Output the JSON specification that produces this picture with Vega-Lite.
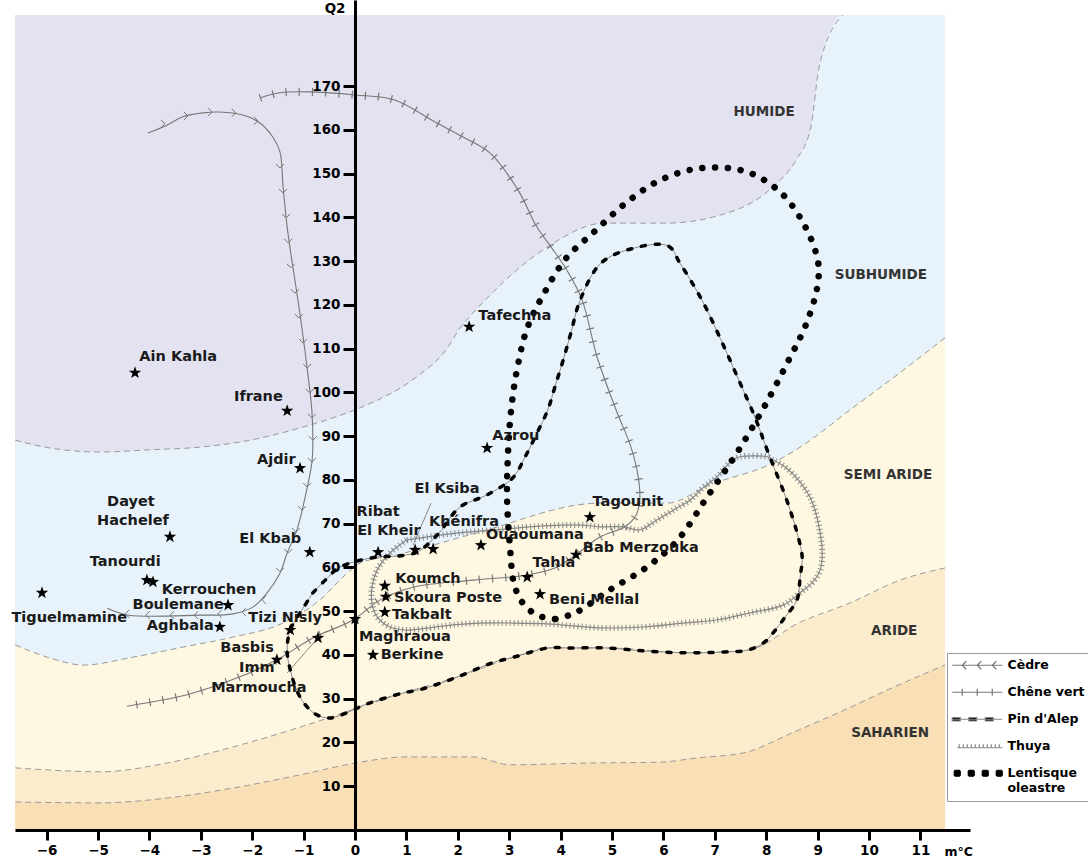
{
  "$schema": "https://vega.github.io/schema/vega-lite/v6.json",
  "width": 955,
  "height": 830,
  "autosize": {"type": "none"},
  "padding": {"left": 15, "top": 0, "right": 118, "bottom": 29},
  "background": "white",
  "config": {"view": {"stroke": null}, "font": "DejaVu Sans"},
  "datasets": {
    "top": [{"x": -6.615, "y": 186.3}, {"x": 11.48, "y": 186.3}],
    "b1": [{"x":-6.61,"y":89.1},{"x":-5.93,"y":87.3},{"x":-4.96,"y":86.4},{"x":-3.99,"y":86.9},{"x":-3.02,"y":87.5},{"x":-2.04,"y":89.1},{"x":-1.07,"y":91.9},{"x":-0.43,"y":94.2},{"x":0.10,"y":96.5},{"x":1.19,"y":103.5},{"x":1.77,"y":109.7},{"x":2.06,"y":115.0},{"x":2.30,"y":118.2},{"x":2.59,"y":121.8},{"x":3.75,"y":133.3},{"x":4.84,"y":138.7},{"x":6.03,"y":138.7},{"x":7.41,"y":141.7},{"x":8.13,"y":147.0},{"x":8.58,"y":153.1},{"x":8.87,"y":160.7},{"x":9.03,"y":174.4},{"x":9.49,"y":186.3},{"x":11.48,"y":186.3}],
    "b2": [{"x":-6.61,"y":42.3},{"x":-5.93,"y":39.3},{"x":-5.29,"y":37.7},{"x":-4.32,"y":39.5},{"x":-3.35,"y":41.8},{"x":-2.37,"y":44.1},{"x":-1.40,"y":47.3},{"x":-0.68,"y":52.6},{"x":-0.19,"y":58.3},{"x":0.10,"y":61.0},{"x":0.82,"y":62.9},{"x":2.37,"y":67.9},{"x":4.77,"y":74.7},{"x":6.07,"y":74.7},{"x":6.91,"y":78.9},{"x":8.13,"y":83.9},{"x":8.66,"y":87.5},{"x":9.63,"y":96.0},{"x":10.60,"y":104.5},{"x":11.48,"y":112.5}],
    "b3": [{"x":-6.61,"y":14.2},{"x":-5.93,"y":13.7},{"x":-4.96,"y":13.3},{"x":-3.66,"y":15.3},{"x":-2.37,"y":19.0},{"x":-1.07,"y":23.5},{"x":0.10,"y":28.1},{"x":0.93,"y":31.3},{"x":2.00,"y":35.0},{"x":3.09,"y":39.5},{"x":3.75,"y":41.6},{"x":4.92,"y":41.6},{"x":6.46,"y":40.5},{"x":7.63,"y":41.1},{"x":8.66,"y":47.5},{"x":9.63,"y":51.9},{"x":10.60,"y":57.1},{"x":11.48,"y":59.9}],
    "b4": [{"x":-6.61,"y":6.4},{"x":-4.96,"y":6.2},{"x":-3.66,"y":7.3},{"x":-2.37,"y":9.6},{"x":-1.07,"y":12.6},{"x":0.10,"y":15.5},{"x":0.97,"y":16.7},{"x":2.30,"y":16.7},{"x":3.02,"y":14.9},{"x":4.47,"y":15.3},{"x":5.93,"y":15.5},{"x":6.67,"y":16.5},{"x":7.55,"y":17.6},{"x":8.50,"y":22.2},{"x":9.61,"y":27.9},{"x":10.49,"y":32.7},{"x":11.48,"y":37.7}],
    "cedre": [{"x":-4.03,"y":159.3},{"x":-3.66,"y":161.1},{"x":-3.35,"y":163.0},{"x":-2.96,"y":163.9},{"x":-2.63,"y":164.1},{"x":-2.18,"y":163.4},{"x":-1.85,"y":161.6},{"x":-1.60,"y":158.4},{"x":-1.46,"y":155.0},{"x":-1.40,"y":147.0},{"x":-1.32,"y":137.8},{"x":-1.23,"y":130.3},{"x":-1.11,"y":121.1},{"x":-1.01,"y":112.7},{"x":-0.91,"y":103.5},{"x":-0.84,"y":96.0},{"x":-0.82,"y":89.1},{"x":-0.84,"y":83.9},{"x":-0.97,"y":76.1},{"x":-1.13,"y":68.6},{"x":-1.32,"y":63.3},{"x":-1.46,"y":58.7},{"x":-1.71,"y":54.2},{"x":-1.98,"y":51.0},{"x":-2.37,"y":49.4},{"x":-3.02,"y":49.1},{"x":-4.40,"y":49.1},{"x":-4.82,"y":50.7}],
    "chevR": [{"x":-3.70,"y":161.4},{"x":-3.25,"y":163.2},{"x":-2.78,"y":164.1},{"x":-2.32,"y":163.9},{"x":-1.89,"y":162.1}],
    "chevD": [{"x":-1.46,"y":151.3},{"x":-1.40,"y":145.6},{"x":-1.34,"y":139.9},{"x":-1.30,"y":134.2},{"x":-1.25,"y":128.5},{"x":-1.17,"y":122.7},{"x":-1.09,"y":117.0},{"x":-1.01,"y":111.3},{"x":-0.93,"y":105.6},{"x":-0.88,"y":99.9},{"x":-0.84,"y":94.2},{"x":-0.82,"y":89.1},{"x":-0.84,"y":84.1},{"x":-0.93,"y":78.4},{"x":-1.03,"y":73.1},{"x":-1.15,"y":68.1},{"x":-1.30,"y":63.3},{"x":-1.46,"y":59.0}],
    "chevL": [{"x":-1.81,"y":52.6},{"x":-2.20,"y":49.8},{"x":-2.67,"y":49.4},{"x":-3.13,"y":49.1},{"x":-3.60,"y":49.1},{"x":-4.07,"y":49.1},{"x":-4.47,"y":49.4}],
    "chene": [{"x":-1.85,"y":167.3},{"x":-1.46,"y":168.5},{"x":-0.88,"y":168.7},{"x":0.00,"y":168.0},{"x":0.76,"y":166.9},{"x":1.56,"y":161.8},{"x":2.10,"y":158.4},{"x":2.63,"y":154.7},{"x":3.17,"y":146.3},{"x":3.54,"y":137.8},{"x":3.83,"y":133.0},{"x":4.12,"y":128.0},{"x":4.42,"y":121.1},{"x":4.71,"y":108.1},{"x":5.08,"y":96.0},{"x":5.37,"y":87.5},{"x":5.51,"y":80.7},{"x":5.54,"y":75.4},{"x":5.47,"y":72.0},{"x":5.25,"y":69.3},{"x":4.77,"y":67.0},{"x":4.30,"y":62.9},{"x":3.89,"y":59.9},{"x":3.35,"y":58.3},{"x":2.30,"y":57.1},{"x":1.13,"y":55.5},{"x":0.49,"y":52.6},{"x":-0.04,"y":48.0},{"x":-0.82,"y":43.9},{"x":-1.52,"y":38.9},{"x":-2.24,"y":35.0},{"x":-3.27,"y":30.9},{"x":-4.44,"y":28.3}],
    "thuya": [{"x":1.01,"y":66.3},{"x":1.65,"y":67.4},{"x":2.18,"y":68.1},{"x":2.76,"y":68.6},{"x":3.40,"y":69.3},{"x":4.38,"y":69.7},{"x":4.77,"y":69.3},{"x":5.21,"y":69.3},{"x":5.54,"y":68.6},{"x":5.88,"y":70.9},{"x":6.19,"y":73.1},{"x":6.52,"y":75.4},{"x":6.77,"y":78.2},{"x":7.04,"y":80.7},{"x":7.35,"y":84.6},{"x":7.49,"y":85.3},{"x":8.02,"y":85.3},{"x":8.13,"y":84.6},{"x":8.40,"y":82.7},{"x":8.66,"y":79.5},{"x":8.85,"y":76.1},{"x":8.95,"y":73.1},{"x":9.05,"y":67.9},{"x":9.09,"y":63.3},{"x":9.05,"y":59.4},{"x":8.91,"y":56.7},{"x":8.66,"y":54.2},{"x":8.33,"y":51.4},{"x":7.68,"y":49.6},{"x":7.04,"y":48.0},{"x":6.38,"y":47.3},{"x":5.60,"y":46.4},{"x":4.77,"y":46.2},{"x":3.74,"y":47.1},{"x":3.07,"y":47.3},{"x":2.43,"y":47.3},{"x":1.91,"y":46.9},{"x":1.46,"y":46.2},{"x":1.01,"y":45.7},{"x":0.68,"y":46.4},{"x":0.43,"y":48.7},{"x":0.33,"y":51.9},{"x":0.33,"y":55.5},{"x":0.43,"y":59.4},{"x":0.68,"y":63.3},{"x":1.01,"y":66.3}],
    "pin": [{"x":-0.82,"y":54.2},{"x":-0.58,"y":57.1},{"x":-0.29,"y":60.1},{"x":0.43,"y":62.4},{"x":0.82,"y":62.6},{"x":1.21,"y":63.5},{"x":1.46,"y":65.8},{"x":1.65,"y":68.1},{"x":2.04,"y":73.8},{"x":2.57,"y":76.6},{"x":3.07,"y":80.5},{"x":3.31,"y":85.3},{"x":3.54,"y":90.7},{"x":3.75,"y":96.0},{"x":3.89,"y":101.3},{"x":4.05,"y":107.4},{"x":4.20,"y":113.6},{"x":4.38,"y":121.1},{"x":4.79,"y":129.6},{"x":5.43,"y":133.0},{"x":6.09,"y":133.5},{"x":6.32,"y":129.6},{"x":6.75,"y":121.1},{"x":7.12,"y":112.0},{"x":7.49,"y":102.2},{"x":7.78,"y":94.4},{"x":8.04,"y":86.2},{"x":8.40,"y":75.4},{"x":8.60,"y":67.9},{"x":8.70,"y":62.4},{"x":8.66,"y":57.8},{"x":8.60,"y":52.6},{"x":8.37,"y":48.7},{"x":8.13,"y":45.0},{"x":7.94,"y":42.7},{"x":7.63,"y":41.1},{"x":7.20,"y":40.7},{"x":6.46,"y":40.5},{"x":5.66,"y":40.9},{"x":4.92,"y":41.6},{"x":4.18,"y":41.6},{"x":3.75,"y":41.6},{"x":3.09,"y":39.5},{"x":2.67,"y":38.2},{"x":2.00,"y":35.0},{"x":1.30,"y":32.2},{"x":0.93,"y":31.3},{"x":0.18,"y":28.6},{"x":-0.04,"y":27.4},{"x":-0.49,"y":25.6},{"x":-0.74,"y":26.3},{"x":-0.93,"y":28.1},{"x":-1.11,"y":31.3},{"x":-1.26,"y":36.6},{"x":-1.32,"y":41.1},{"x":-1.26,"y":45.7},{"x":-1.01,"y":50.7},{"x":-0.82,"y":54.2}],
    "lent": [{"x":3.89,"y":48.2},{"x":3.54,"y":49.1},{"x":3.25,"y":52.1},{"x":3.09,"y":56.5},{"x":3.02,"y":64.0},{"x":2.96,"y":75.4},{"x":2.98,"y":86.9},{"x":3.05,"y":97.4},{"x":3.17,"y":106.3},{"x":3.35,"y":114.7},{"x":3.68,"y":122.7},{"x":4.11,"y":130.7},{"x":4.67,"y":136.9},{"x":5.27,"y":143.3},{"x":5.95,"y":148.6},{"x":6.75,"y":151.3},{"x":7.63,"y":150.4},{"x":8.29,"y":145.6},{"x":8.75,"y":138.1},{"x":9.01,"y":129.8},{"x":8.99,"y":123.9},{"x":8.77,"y":115.4},{"x":8.46,"y":107.9},{"x":7.96,"y":96.7},{"x":7.43,"y":86.2},{"x":6.85,"y":76.1},{"x":6.28,"y":66.3},{"x":5.68,"y":60.1},{"x":4.96,"y":54.9},{"x":4.28,"y":49.6},{"x":3.89,"y":48.2}],
    "thin": [{"g":"a","x":-0.72,"y":43.9},{"g":"a","x":-1.32,"y":35.9},{"g":"b","x":1.48,"y":74.7},{"g":"b","x":1.13,"y":65.1}],
    "stn": [{"x":-4.28,"y":104.5},{"x":-1.32,"y":95.8},{"x":-1.07,"y":82.7},{"x":-3.60,"y":67.0},{"x":-0.88,"y":63.5},{"x":-4.05,"y":57.1},{"x":-3.93,"y":56.7},{"x":-6.09,"y":54.2},{"x":-2.47,"y":51.4},{"x":-2.63,"y":46.4},{"x":-1.26,"y":45.7},{"x":-0.72,"y":43.9},{"x":-1.52,"y":38.9},{"x":0.00,"y":48.2},{"x":0.45,"y":63.5},{"x":2.22,"y":115.0},{"x":2.57,"y":87.3},{"x":1.17,"y":64.0},{"x":1.52,"y":64.2},{"x":2.45,"y":65.1},{"x":4.57,"y":71.5},{"x":4.30,"y":62.9},{"x":3.35,"y":57.8},{"x":0.58,"y":55.8},{"x":0.60,"y":53.3},{"x":0.58,"y":49.8},{"x":3.60,"y":53.9},{"x":0.35,"y":40.0}],
    "labs": [{"t":"Ain Kahla","x":-3.44,"y":108.1},{"t":"Ifrane","x":-1.88,"y":99.0},{"t":"Ajdir","x":-1.53,"y":84.6},{"t":"Dayet","x":-4.36,"y":75.0},{"t":"Hachelef","x":-4.32,"y":70.6},{"t":"El Kbab","x":-1.65,"y":66.5},{"t":"Tanourdi","x":-4.47,"y":61.3},{"t":"Kerrouchen","x":-2.84,"y":54.9},{"t":"Tiguelmamine","x":-5.56,"y":48.5},{"t":"Boulemane","x":-3.44,"y":51.4},{"t":"Aghbala","x":-3.40,"y":46.6},{"t":"Tizi Nisly","x":-1.36,"y":48.4},{"t":"Basbis","x":-2.10,"y":41.6},{"t":"Imm","x":-1.91,"y":37.0},{"t":"Marmoucha","x":-1.87,"y":32.5},{"t":"Maghraoua","x":0.97,"y":44.1},{"t":"Berkine","x":1.11,"y":40.0},{"t":"Takbalt","x":1.30,"y":49.1},{"t":"Skoura Poste","x":1.81,"y":53.0},{"t":"Koumch","x":1.42,"y":57.4},{"t":"Ribat","x":0.45,"y":72.7},{"t":"El Kheir","x":0.66,"y":68.3},{"t":"El Ksiba","x":1.79,"y":77.9},{"t":"Khénifra","x":2.12,"y":70.4},{"t":"Ouaoumana","x":3.50,"y":67.4},{"t":"Tagounit","x":5.31,"y":75.0},{"t":"Bab Merzouka","x":5.56,"y":64.5},{"t":"Tahla","x":3.87,"y":61.0},{"t":"Beni Mellal","x":4.65,"y":52.6},{"t":"Azrou","x":3.13,"y":90.1},{"t":"Tafechna","x":3.11,"y":117.5}],
    "zones": [{"t":"HUMIDE","x":7.96,"y":164.1},{"t":"SUBHUMIDE","x":10.23,"y":126.9},{"t":"SEMI ARIDE","x":10.37,"y":81.1},{"t":"ARIDE","x":10.49,"y":45.5},{"t":"SAHARIEN","x":10.41,"y":22.2}],
    "species": [{"s":"Cèdre"},{"s":"Chêne vert"},{"s":"Pin d'Alep"},{"s":"Thuya"},{"s":"Lentisque oleastre"}]
  },
  "layer": [
    {
      "data": {"name": "top"},
      "mark": {"type": "area", "fill": "#e2e2f1"},
      "encoding": {
        "x": {"field": "x", "type": "quantitative", "scale": {"domain": [-6.615, 11.965], "nice": false, "zero": false},
          "axis": {"values": [-6,-5,-4,-3,-2,-1,0,1,2,3,4,5,6,7,8,9,10,11], "grid": false, "zindex": 1, "domainColor": "#000", "domainWidth": 3, "tickColor": "#000", "tickWidth": 3, "tickSize": 10, "labelFont": "DejaVu Sans", "labelFontWeight": "bold", "labelFontSize": 13.5, "labelColor": "#000", "labelPadding": 3, "labelOverlap": false, "labelFlush": false, "title": "m°C", "titleFont": "DejaVu Sans", "titleFontWeight": "bold", "titleFontSize": 12.5, "titleColor": "#000", "titleAlign": "left", "titleBaseline": "middle", "titleX": 929, "titleY": 21}},
        "y": {"field": "y", "type": "quantitative", "scale": {"domain": [0, 189.7], "nice": false, "zero": false},
          "axis": {"values": [10,20,30,40,50,60,70,80,90,100,110,120,130,140,150,160,170], "offset": -340, "grid": false, "zindex": 1, "domainColor": "#000", "domainWidth": 3, "tickColor": "#000", "tickWidth": 3, "tickSize": 12, "labelFont": "DejaVu Sans", "labelFontWeight": "bold", "labelFontSize": 13.5, "labelColor": "#000", "labelPadding": 3, "title": "Q2", "titleAngle": 0, "titleAlign": "right", "titleBaseline": "middle", "titleX": -10, "titleY": 8, "titleFont": "DejaVu Sans", "titleFontWeight": "bold", "titleFontSize": 13.5, "titleColor": "#000"}},
        "y2": {"datum": 0}
      }
    },
    {"data": {"name": "b1"}, "mark": {"type": "area", "interpolate": "monotone", "fill": "#e7f2fa"}, "encoding": {"x": {"field": "x", "type": "quantitative"}, "y": {"field": "y", "type": "quantitative"}, "y2": {"datum": 0}}},
    {"data": {"name": "b2"}, "mark": {"type": "area", "interpolate": "monotone", "fill": "#fef8e2"}, "encoding": {"x": {"field": "x", "type": "quantitative"}, "y": {"field": "y", "type": "quantitative"}, "y2": {"datum": 0}}},
    {"data": {"name": "b3"}, "mark": {"type": "area", "interpolate": "monotone", "fill": "#fcecce"}, "encoding": {"x": {"field": "x", "type": "quantitative"}, "y": {"field": "y", "type": "quantitative"}, "y2": {"datum": 0}}},
    {"data": {"name": "b4"}, "mark": {"type": "area", "interpolate": "monotone", "fill": "#f9dfb5"}, "encoding": {"x": {"field": "x", "type": "quantitative"}, "y": {"field": "y", "type": "quantitative"}, "y2": {"datum": 0}}},
    {"data": {"name": "b1"}, "transform": [{"filter": "datum.x < 11"}], "mark": {"type": "line", "interpolate": "monotone", "stroke": "#999", "strokeWidth": 1, "strokeDash": [6, 4]}, "encoding": {"x": {"field": "x", "type": "quantitative"}, "y": {"field": "y", "type": "quantitative"}}},
    {"data": {"name": "b2"}, "mark": {"type": "line", "interpolate": "monotone", "stroke": "#999", "strokeWidth": 1, "strokeDash": [6, 4]}, "encoding": {"x": {"field": "x", "type": "quantitative"}, "y": {"field": "y", "type": "quantitative"}}},
    {"data": {"name": "b3"}, "mark": {"type": "line", "interpolate": "monotone", "stroke": "#999", "strokeWidth": 1, "strokeDash": [6, 4]}, "encoding": {"x": {"field": "x", "type": "quantitative"}, "y": {"field": "y", "type": "quantitative"}}},
    {"data": {"name": "b4"}, "mark": {"type": "line", "interpolate": "monotone", "stroke": "#999", "strokeWidth": 1, "strokeDash": [6, 4]}, "encoding": {"x": {"field": "x", "type": "quantitative"}, "y": {"field": "y", "type": "quantitative"}}},
    {"data": {"name": "cedre"}, "mark": {"type": "line", "interpolate": "catmull-rom", "stroke": "#777", "strokeWidth": 1.1}, "encoding": {"x": {"field": "x", "type": "quantitative"}, "y": {"field": "y", "type": "quantitative"}, "order": {"value": null}}},
    {"data": {"name": "chevR"}, "mark": {"type": "point", "shape": "M-1,-1L0,0L-1,1", "size": 64, "filled": false, "stroke": "#777", "strokeWidth": 1, "opacity": 1}, "encoding": {"x": {"field": "x", "type": "quantitative"}, "y": {"field": "y", "type": "quantitative"}}},
    {"data": {"name": "chevD"}, "mark": {"type": "point", "shape": "M-1,-1L0,0L1,-1", "size": 64, "filled": false, "stroke": "#777", "strokeWidth": 1, "opacity": 1}, "encoding": {"x": {"field": "x", "type": "quantitative"}, "y": {"field": "y", "type": "quantitative"}}},
    {"data": {"name": "chevL"}, "mark": {"type": "point", "shape": "M1,-1L0,0L1,1", "size": 64, "filled": false, "stroke": "#777", "strokeWidth": 1, "opacity": 1}, "encoding": {"x": {"field": "x", "type": "quantitative"}, "y": {"field": "y", "type": "quantitative"}}},
    {"data": {"name": "chene"}, "mark": {"type": "line", "interpolate": "catmull-rom", "stroke": "#777", "strokeWidth": 1.1}, "encoding": {"x": {"field": "x", "type": "quantitative"}, "y": {"field": "y", "type": "quantitative"}, "order": {"value": null}}},
    {"data": {"name": "chene"}, "mark": {"type": "line", "interpolate": "catmull-rom", "stroke": "#777", "strokeWidth": 8, "strokeDash": [1.2, 12]}, "encoding": {"x": {"field": "x", "type": "quantitative"}, "y": {"field": "y", "type": "quantitative"}, "order": {"value": null}}},
    {"data": {"name": "thuya"}, "mark": {"type": "line", "interpolate": "catmull-rom", "stroke": "#888", "strokeWidth": 1.2}, "encoding": {"x": {"field": "x", "type": "quantitative"}, "y": {"field": "y", "type": "quantitative"}, "order": {"value": null}}},
    {"data": {"name": "thuya"}, "mark": {"type": "line", "interpolate": "catmull-rom", "stroke": "#888", "strokeWidth": 6, "strokeDash": [1, 3]}, "encoding": {"x": {"field": "x", "type": "quantitative"}, "y": {"field": "y", "type": "quantitative"}, "order": {"value": null}}},
    {"data": {"name": "thin"}, "mark": {"type": "line", "stroke": "#888", "strokeWidth": 1}, "encoding": {"x": {"field": "x", "type": "quantitative"}, "y": {"field": "y", "type": "quantitative"}, "detail": {"field": "g", "type": "nominal"}, "order": {"value": null}}},
    {"data": {"name": "pin"}, "mark": {"type": "line", "interpolate": "catmull-rom", "stroke": "#8a8a8a", "strokeWidth": 1}, "encoding": {"x": {"field": "x", "type": "quantitative"}, "y": {"field": "y", "type": "quantitative"}, "order": {"value": null}}},
    {"data": {"name": "pin"}, "mark": {"type": "line", "interpolate": "catmull-rom", "stroke": "#000", "strokeWidth": 3.5, "strokeCap": "round", "strokeDash": [4, 10]}, "encoding": {"x": {"field": "x", "type": "quantitative"}, "y": {"field": "y", "type": "quantitative"}, "order": {"value": null}}},
    {"data": {"name": "lent"}, "mark": {"type": "line", "interpolate": "catmull-rom", "stroke": "#000", "strokeWidth": 6.5, "strokeCap": "round", "strokeDash": [0.1, 12.7]}, "encoding": {"x": {"field": "x", "type": "quantitative"}, "y": {"field": "y", "type": "quantitative"}, "order": {"value": null}}},
    {"data": {"name": "stn"}, "mark": {"type": "point", "shape": "M0,-1L0.235,-0.324L0.951,-0.309L0.38,0.124L0.588,0.809L0,0.4L-0.588,0.809L-0.38,0.124L-0.951,-0.309L-0.235,-0.324Z", "filled": true, "fill": "#000", "strokeWidth": 0, "size": 170, "opacity": 1}, "encoding": {"x": {"field": "x", "type": "quantitative"}, "y": {"field": "y", "type": "quantitative"}}},
    {"data": {"name": "labs"}, "mark": {"type": "text", "font": "DejaVu Sans", "fontWeight": "bold", "fontSize": 14.5, "fill": "#1a1a1a", "align": "center", "baseline": "middle"}, "encoding": {"x": {"field": "x", "type": "quantitative"}, "y": {"field": "y", "type": "quantitative"}, "text": {"field": "t", "type": "nominal"}}},
    {"data": {"name": "zones"}, "mark": {"type": "text", "font": "DejaVu Sans", "fontWeight": "bold", "fontSize": 13.5, "fill": "#333", "align": "center", "baseline": "middle"}, "encoding": {"x": {"field": "x", "type": "quantitative"}, "y": {"field": "y", "type": "quantitative"}, "text": {"field": "t", "type": "nominal"}}},
    {"mark": {"type": "point", "shape": "M-0.9,1L0,0L0.9,1", "size": 196, "filled": false, "stroke": "#000", "strokeWidth": 2.5, "opacity": 1, "clip": false}, "encoding": {"x": {"datum": 0, "type": "quantitative"}, "y": {"datum": 189.7, "type": "quantitative"}}},
    {"mark": {"type": "point", "shape": "M-1,-0.9L0,0L-1,0.9", "size": 196, "filled": false, "stroke": "#000", "strokeWidth": 2.5, "opacity": 1, "clip": false}, "encoding": {"x": {"datum": 11.96, "type": "quantitative"}, "y": {"datum": 0, "type": "quantitative"}}},
    {
      "data": {"name": "species"},
      "mark": {"type": "point", "clip": true, "strokeWidth": 1.2, "opacity": 1},
      "encoding": {
        "x": {"datum": -50, "type": "quantitative"},
        "y": {"datum": -50, "type": "quantitative"},
        "shape": {"field": "s", "type": "nominal",
          "scale": {"domain": ["Cèdre", "Chêne vert", "Pin d'Alep", "Thuya", "Lentisque oleastre"],
            "range": [
              "M-9,0L1,0M-6.2,-0.8L-7,0L-6.2,0.8M-3.2,-0.8L-4,0L-3.2,0.8M-0.2,-0.8L-1,0L-0.2,0.8",
              "M-9,0L1,0M-7,-0.7L-7,0.7M-4,-0.7L-4,0.7M-1,-0.7L-1,0.7",
              "M-9,0L1,0M-9,-0.35L-7.4,-0.35L-7.4,0.35L-9,0.35ZM-5.7,-0.35L-4.1,-0.35L-4.1,0.35L-5.7,0.35ZM-2.4,-0.35L-0.8,-0.35L-0.8,0.35L-2.4,0.35Z",
              "M-8,0.3L1,0.3M-7.6,0.3L-7.6,-0.4M-6.8,0.3L-6.8,-0.4M-6,0.3L-6,-0.4M-5.2,0.3L-5.2,-0.4M-4.4,0.3L-4.4,-0.4M-3.6,0.3L-3.6,-0.4M-2.8,0.3L-2.8,-0.4M-2,0.3L-2,-0.4M-1.2,0.3L-1.2,-0.4M-0.4,0.3L-0.4,-0.4M0.4,0.3L0.4,-0.4",
              "M-8.6,-0.4L-8.4,-0.6L-7.6,-0.6L-7.4,-0.4L-7.4,0.4L-7.6,0.6L-8.4,0.6L-8.6,0.4ZM-5.8,-0.4L-5.6,-0.6L-4.8,-0.6L-4.6,-0.4L-4.6,0.4L-4.8,0.6L-5.6,0.6L-5.8,0.4ZM-3,-0.4L-2.8,-0.6L-2,-0.6L-1.8,-0.4L-1.8,0.4L-2,0.6L-2.8,0.6L-3,0.4ZM-0.2,-0.4L0,-0.6L0.8,-0.6L1,-0.4L1,0.4L0.8,0.6L0,0.6L-0.2,0.4Z"
            ]},
          "legend": {"title": null, "orient": "none", "legendX": 932, "legendY": 653, "strokeColor": "#999", "fillColor": "#fff", "padding": 6, "symbolSize": 100, "symbolOffset": 38, "symbolStrokeWidth": 1.2, "symbolOpacity": 1, "labelOffset": 4, "rowPadding": 14, "labelFont": "DejaVu Sans", "labelFontWeight": "bold", "labelFontSize": 12.5, "labelColor": "#000", "labelLimit": 300, "labelExpr": "datum.label == 'Lentisque oleastre' ? ['Lentisque', 'oleastre'] : datum.label"}},
        "fill": {"field": "s", "type": "nominal",
          "scale": {"domain": ["Cèdre", "Chêne vert", "Pin d'Alep", "Thuya", "Lentisque oleastre"], "range": ["#ffffff", "#ffffff", "#000000", "#ffffff", "#000000"]},
          "legend": {"title": null, "orient": "none", "legendX": 932, "legendY": 653, "strokeColor": "#999", "fillColor": "#fff", "padding": 6, "symbolSize": 100, "symbolOffset": 38, "symbolStrokeWidth": 1.2, "symbolOpacity": 1, "labelOffset": 4, "rowPadding": 14, "labelFont": "DejaVu Sans", "labelFontWeight": "bold", "labelFontSize": 12.5, "labelColor": "#000", "labelLimit": 300, "labelExpr": "datum.label == 'Lentisque oleastre' ? ['Lentisque', 'oleastre'] : datum.label"}},
        "stroke": {"field": "s", "type": "nominal",
          "scale": {"domain": ["Cèdre", "Chêne vert", "Pin d'Alep", "Thuya", "Lentisque oleastre"], "range": ["#777777", "#777777", "#888888", "#888888", "#000000"]},
          "legend": {"title": null, "orient": "none", "legendX": 932, "legendY": 653, "strokeColor": "#999", "fillColor": "#fff", "padding": 6, "symbolSize": 100, "symbolOffset": 38, "symbolStrokeWidth": 1.2, "symbolOpacity": 1, "labelOffset": 4, "rowPadding": 14, "labelFont": "DejaVu Sans", "labelFontWeight": "bold", "labelFontSize": 12.5, "labelColor": "#000", "labelLimit": 300, "labelExpr": "datum.label == 'Lentisque oleastre' ? ['Lentisque', 'oleastre'] : datum.label"}}
      }
    }
  ]
}
